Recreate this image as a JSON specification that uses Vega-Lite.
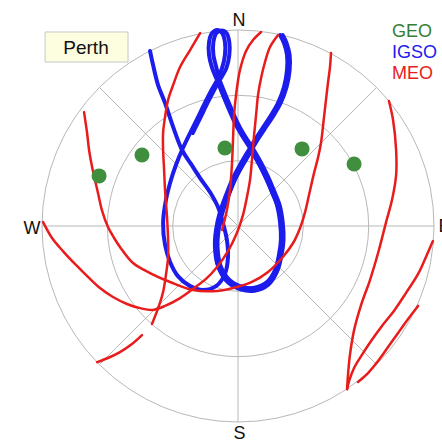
{
  "$schema": "https://vega.github.io/schema/vega-lite/v6.json",
  "width": 442,
  "height": 442,
  "padding": 0,
  "autosize": {"type": "none"},
  "background": "white",
  "config": {"view": {"stroke": null}, "text": {"font": "Liberation Sans"}},
  "datasets": {
    "rings": [{"x": 0, "y": 0, "r": 30}, {"x": 0, "y": 0, "r": 60}, {"x": 0, "y": 0, "r": 90}],
    "spokes": [
      {"x": 0, "y": 90, "x2": 0, "y2": -90},
      {"x": -90, "y": 0, "x2": 90, "y2": 0},
      {"x": -63.64, "y": 63.64, "x2": 63.64, "y2": -63.64},
      {"x": 63.64, "y": 63.64, "x2": -63.64, "y2": -63.64}
    ],
    "station": [{"x": -88.6, "y": 89.1, "x2": -50.5, "y2": 75.3, "label": "Perth", "lx": -69.8, "ly": 79.0}],
    "igso": [
      {"sat": "I1", "x": -40.4, "y": 80.4}, {"sat": "I1", "x": -39.0, "y": 73.9}, {"sat": "I1", "x": -36.7, "y": 64.7},
      {"sat": "I1", "x": -33.5, "y": 56.5}, {"sat": "I1", "x": -29.8, "y": 45.5}, {"sat": "I1", "x": -25.7, "y": 34.9},
      {"sat": "I1", "x": -21.6, "y": 28.5}, {"sat": "I1", "x": -17.4, "y": 22.0}, {"sat": "I1", "x": -12.9, "y": 15.6},
      {"sat": "I1", "x": -9.2, "y": 8.7}, {"sat": "I1", "x": -6.9, "y": 1.4}, {"sat": "I1", "x": -5.1, "y": -6.4},
      {"sat": "I1", "x": -4.6, "y": -14.2}, {"sat": "I1", "x": -6.0, "y": -22.0}, {"sat": "I1", "x": -10.1, "y": -27.6},
      {"sat": "I1", "x": -16.1, "y": -29.4}, {"sat": "I1", "x": -22.0, "y": -27.6}, {"sat": "I1", "x": -27.6, "y": -23.0},
      {"sat": "I1", "x": -31.2, "y": -16.5}, {"sat": "I1", "x": -33.5, "y": -8.7}, {"sat": "I1", "x": -34.4, "y": 1.4},
      {"sat": "I1", "x": -33.1, "y": 11.9}, {"sat": "I1", "x": -30.8, "y": 21.1}, {"sat": "I1", "x": -28.5, "y": 28.0},
      {"sat": "I1", "x": -25.7, "y": 34.9}, {"sat": "I1", "x": -22.0, "y": 42.7}, {"sat": "I1", "x": -18.8, "y": 49.1},
      {"sat": "I1", "x": -15.2, "y": 56.5}, {"sat": "I1", "x": -11.9, "y": 62.9}, {"sat": "I1", "x": -9.6, "y": 67.0},
      {"sat": "I1", "x": -7.3, "y": 72.6}, {"sat": "I1", "x": -6.0, "y": 78.5}, {"sat": "I1", "x": -6.0, "y": 84.5},
      {"sat": "I1", "x": -7.3, "y": 88.6}, {"sat": "I1", "x": -9.6, "y": 90.0}, {"sat": "I1", "x": -11.9, "y": 88.6},
      {"sat": "I1", "x": -13.3, "y": 84.5}, {"sat": "I1", "x": -13.3, "y": 78.5}, {"sat": "I1", "x": -11.9, "y": 72.6},
      {"sat": "I1", "x": -9.6, "y": 67.0}, {"sat": "I1", "x": -7.3, "y": 61.1}, {"sat": "I1", "x": -4.6, "y": 54.6},
      {"sat": "I1", "x": -1.8, "y": 48.2}, {"sat": "I1", "x": 1.4, "y": 42.2}, {"sat": "I1", "x": 5.5, "y": 35.8},
      {"sat": "I1", "x": 9.2, "y": 29.4}, {"sat": "I1", "x": 12.4, "y": 23.0}, {"sat": "I1", "x": 15.2, "y": 16.5},
      {"sat": "I1", "x": 17.9, "y": 9.6}, {"sat": "I1", "x": 19.3, "y": 1.8}, {"sat": "I1", "x": 19.7, "y": -6.4},
      {"sat": "I1", "x": 18.8, "y": -13.3}, {"sat": "I1", "x": 17.0, "y": -20.2}, {"sat": "I1", "x": 13.3, "y": -25.7},
      {"sat": "I1", "x": 6.9, "y": -28.5}, {"sat": "I1", "x": 0.9, "y": -28.0}, {"sat": "I1", "x": -5.1, "y": -24.8},
      {"sat": "I1", "x": -9.2, "y": -18.4}, {"sat": "I1", "x": -10.6, "y": -9.6}, {"sat": "I1", "x": -10.1, "y": -1.8},
      {"sat": "I1", "x": -8.3, "y": 6.4}, {"sat": "I1", "x": -5.5, "y": 14.2}, {"sat": "I1", "x": -2.3, "y": 22.0},
      {"sat": "I1", "x": 1.4, "y": 28.9}, {"sat": "I1", "x": 5.5, "y": 35.8}, {"sat": "I1", "x": 8.3, "y": 40.4},
      {"sat": "I1", "x": 11.0, "y": 44.5}, {"sat": "I1", "x": 14.7, "y": 50.1}, {"sat": "I1", "x": 18.4, "y": 56.5},
      {"sat": "I1", "x": 21.1, "y": 63.8}, {"sat": "I1", "x": 22.5, "y": 71.6}, {"sat": "I1", "x": 22.5, "y": 78.5},
      {"sat": "I1", "x": 21.1, "y": 84.0}, {"sat": "I1", "x": 19.3, "y": 87.7},

      {"sat": "I2", "x": -20.8, "y": 42.7}, {"sat": "I2", "x": -17.6, "y": 49.1}, {"sat": "I2", "x": -14.0, "y": 56.5},
      {"sat": "I2", "x": -10.7, "y": 62.9}, {"sat": "I2", "x": -8.4, "y": 67.0}, {"sat": "I2", "x": -5.3, "y": 72.6},
      {"sat": "I2", "x": -4.0, "y": 78.5}, {"sat": "I2", "x": -4.0, "y": 84.5}, {"sat": "I2", "x": -5.3, "y": 88.6},
      {"sat": "I2", "x": -7.6, "y": 89.8}, {"sat": "I2", "x": -9.9, "y": 88.6}, {"sat": "I2", "x": -11.3, "y": 84.5},
      {"sat": "I2", "x": -11.3, "y": 78.5}, {"sat": "I2", "x": -9.9, "y": 72.6}, {"sat": "I2", "x": -8.4, "y": 67.0},
      {"sat": "I2", "x": -6.1, "y": 61.1}, {"sat": "I2", "x": -3.4, "y": 54.6}, {"sat": "I2", "x": -0.6, "y": 48.2},
      {"sat": "I2", "x": 2.6, "y": 42.2}, {"sat": "I2", "x": 6.7, "y": 35.8}, {"sat": "I2", "x": 10.4, "y": 29.4},
      {"sat": "I2", "x": 13.6, "y": 23.0}, {"sat": "I2", "x": 16.4, "y": 16.5}, {"sat": "I2", "x": 19.1, "y": 9.6},
      {"sat": "I2", "x": 20.5, "y": 1.8}, {"sat": "I2", "x": 20.9, "y": -6.4}, {"sat": "I2", "x": 20.0, "y": -13.3},
      {"sat": "I2", "x": 18.2, "y": -20.2}, {"sat": "I2", "x": 14.5, "y": -25.7}, {"sat": "I2", "x": 8.1, "y": -28.5},
      {"sat": "I2", "x": 2.1, "y": -28.0}, {"sat": "I2", "x": -3.9, "y": -24.8}, {"sat": "I2", "x": -8.0, "y": -18.4},
      {"sat": "I2", "x": -9.4, "y": -9.6}, {"sat": "I2", "x": -8.9, "y": -1.8}, {"sat": "I2", "x": -7.1, "y": 6.4},
      {"sat": "I2", "x": -4.3, "y": 14.2}, {"sat": "I2", "x": -1.1, "y": 22.0}, {"sat": "I2", "x": 2.6, "y": 28.9},
      {"sat": "I2", "x": 6.7, "y": 35.8}, {"sat": "I2", "x": 9.5, "y": 40.4}, {"sat": "I2", "x": 12.2, "y": 44.5},
      {"sat": "I2", "x": 15.9, "y": 50.1}, {"sat": "I2", "x": 19.6, "y": 56.5}, {"sat": "I2", "x": 22.3, "y": 63.8},
      {"sat": "I2", "x": 23.7, "y": 71.6}, {"sat": "I2", "x": 23.7, "y": 78.5}, {"sat": "I2", "x": 22.3, "y": 84.0},
      {"sat": "I2", "x": 20.5, "y": 87.7},

      {"sat": "I3", "x": 6.1, "y": 34.6}, {"sat": "I3", "x": 9.8, "y": 28.2}, {"sat": "I3", "x": 13.0, "y": 21.8},
      {"sat": "I3", "x": 15.8, "y": 15.3}, {"sat": "I3", "x": 18.5, "y": 8.4}, {"sat": "I3", "x": 19.9, "y": 0.6},
      {"sat": "I3", "x": 20.3, "y": -7.6}, {"sat": "I3", "x": 19.4, "y": -14.5}, {"sat": "I3", "x": 17.6, "y": -21.4},
      {"sat": "I3", "x": 13.9, "y": -26.9}, {"sat": "I3", "x": 7.5, "y": -29.7}, {"sat": "I3", "x": 1.5, "y": -29.2},
      {"sat": "I3", "x": -4.5, "y": -26.0}, {"sat": "I3", "x": -8.6, "y": -19.6}, {"sat": "I3", "x": -10.0, "y": -10.8},
      {"sat": "I3", "x": -9.5, "y": -3.0}, {"sat": "I3", "x": -7.7, "y": 5.2}, {"sat": "I3", "x": -4.9, "y": 13.0},
      {"sat": "I3", "x": -1.7, "y": 20.8}, {"sat": "I3", "x": 2.0, "y": 27.7}, {"sat": "I3", "x": 6.1, "y": 34.6}
    ],
    "meo": [
      {"sat": "M1", "x": -17.4, "y": 88.6}, {"sat": "M1", "x": -22.0, "y": 80.8}, {"sat": "M1", "x": -26.6, "y": 73.0},
      {"sat": "M1", "x": -29.8, "y": 64.7}, {"sat": "M1", "x": -32.1, "y": 57.9}, {"sat": "M1", "x": -33.5, "y": 50.1},
      {"sat": "M1", "x": -34.4, "y": 42.7}, {"sat": "M1", "x": -34.4, "y": 34.9}, {"sat": "M1", "x": -34.0, "y": 27.1},
      {"sat": "M1", "x": -33.5, "y": 16.5}, {"sat": "M1", "x": -32.6, "y": 4.1}, {"sat": "M1", "x": -32.1, "y": -6.4},
      {"sat": "M1", "x": -32.1, "y": -14.2}, {"sat": "M1", "x": -33.1, "y": -22.5}, {"sat": "M1", "x": -34.4, "y": -30.3},
      {"sat": "M1", "x": -36.3, "y": -36.7}, {"sat": "M1", "x": -39.5, "y": -45.0},

      {"sat": "M2", "x": -64.7, "y": -62.5}, {"sat": "M2", "x": -59.7, "y": -60.6}, {"sat": "M2", "x": -54.2, "y": -57.9},
      {"sat": "M2", "x": -48.7, "y": -54.2}, {"sat": "M2", "x": -44.1, "y": -50.1},

      {"sat": "M3", "x": -70.7, "y": 52.3}, {"sat": "M3", "x": -69.3, "y": 42.7}, {"sat": "M3", "x": -68.4, "y": 34.9},
      {"sat": "M3", "x": -67.0, "y": 27.1}, {"sat": "M3", "x": -64.3, "y": 15.2}, {"sat": "M3", "x": -62.5, "y": 7.3},
      {"sat": "M3", "x": -59.7, "y": -0.5}, {"sat": "M3", "x": -56.9, "y": -5.5}, {"sat": "M3", "x": -54.2, "y": -9.6},
      {"sat": "M3", "x": -48.2, "y": -17.0}, {"sat": "M3", "x": -40.4, "y": -21.6}, {"sat": "M3", "x": -31.2, "y": -25.7},
      {"sat": "M3", "x": -20.7, "y": -29.4}, {"sat": "M3", "x": -9.6, "y": -29.8}, {"sat": "M3", "x": -0.5, "y": -28.0},
      {"sat": "M3", "x": 6.4, "y": -25.7}, {"sat": "M3", "x": 13.8, "y": -21.1}, {"sat": "M3", "x": 20.2, "y": -14.7},
      {"sat": "M3", "x": 25.3, "y": -7.8}, {"sat": "M3", "x": 28.5, "y": -0.9}, {"sat": "M3", "x": 30.8, "y": 6.4},
      {"sat": "M3", "x": 32.6, "y": 14.2}, {"sat": "M3", "x": 34.9, "y": 24.3}, {"sat": "M3", "x": 36.7, "y": 31.2},
      {"sat": "M3", "x": 38.1, "y": 38.1}, {"sat": "M3", "x": 39.5, "y": 50.1}, {"sat": "M3", "x": 40.4, "y": 57.9},
      {"sat": "M3", "x": 41.3, "y": 65.7}, {"sat": "M3", "x": 42.2, "y": 72.6}, {"sat": "M3", "x": 42.7, "y": 79.4},

      {"sat": "M4", "x": -89.5, "y": 1.8}, {"sat": "M4", "x": -85.4, "y": -5.5}, {"sat": "M4", "x": -80.4, "y": -11.5},
      {"sat": "M4", "x": -74.4, "y": -17.9}, {"sat": "M4", "x": -68.9, "y": -23.4}, {"sat": "M4", "x": -63.4, "y": -28.5},
      {"sat": "M4", "x": -57.4, "y": -32.6}, {"sat": "M4", "x": -51.0, "y": -35.8}, {"sat": "M4", "x": -45.0, "y": -37.7},
      {"sat": "M4", "x": -39.5, "y": -38.6}, {"sat": "M4", "x": -33.5, "y": -36.7}, {"sat": "M4", "x": -26.6, "y": -33.1},
      {"sat": "M4", "x": -20.7, "y": -28.9}, {"sat": "M4", "x": -14.7, "y": -24.3}, {"sat": "M4", "x": -9.6, "y": -18.8},
      {"sat": "M4", "x": -4.6, "y": -11.5}, {"sat": "M4", "x": -0.5, "y": -3.2}, {"sat": "M4", "x": 2.3, "y": 5.1},
      {"sat": "M4", "x": 4.1, "y": 13.3}, {"sat": "M4", "x": 5.5, "y": 21.1}, {"sat": "M4", "x": 6.4, "y": 30.3},
      {"sat": "M4", "x": 7.3, "y": 40.9}, {"sat": "M4", "x": 8.3, "y": 51.0}, {"sat": "M4", "x": 9.2, "y": 60.2},
      {"sat": "M4", "x": 10.6, "y": 68.0}, {"sat": "M4", "x": 12.4, "y": 75.3}, {"sat": "M4", "x": 14.7, "y": 82.2},
      {"sat": "M4", "x": 18.4, "y": 87.7},

      {"sat": "M5", "x": 10.6, "y": 89.1}, {"sat": "M5", "x": 6.9, "y": 85.4}, {"sat": "M5", "x": 3.7, "y": 80.4},
      {"sat": "M5", "x": 0.9, "y": 71.6}, {"sat": "M5", "x": -0.9, "y": 60.2}, {"sat": "M5", "x": -1.8, "y": 51.0},
      {"sat": "M5", "x": -2.3, "y": 39.5}, {"sat": "M5", "x": -2.8, "y": 28.0}, {"sat": "M5", "x": -3.7, "y": 16.5},
      {"sat": "M5", "x": -5.1, "y": 7.3}, {"sat": "M5", "x": -7.3, "y": -1.8},

      {"sat": "M6", "x": 69.3, "y": 57.4}, {"sat": "M6", "x": 71.2, "y": 48.7}, {"sat": "M6", "x": 72.6, "y": 34.9},
      {"sat": "M6", "x": 72.6, "y": 23.4}, {"sat": "M6", "x": 70.7, "y": 11.9}, {"sat": "M6", "x": 68.0, "y": 1.8},
      {"sat": "M6", "x": 64.7, "y": -11.0}, {"sat": "M6", "x": 60.6, "y": -24.8}, {"sat": "M6", "x": 56.5, "y": -36.3},
      {"sat": "M6", "x": 53.3, "y": -47.8}, {"sat": "M6", "x": 51.4, "y": -59.2}, {"sat": "M6", "x": 50.5, "y": -68.4},
      {"sat": "M6", "x": 50.1, "y": -74.9},

      {"sat": "M7", "x": 89.5, "y": -6.9}, {"sat": "M7", "x": 86.3, "y": -14.2}, {"sat": "M7", "x": 82.7, "y": -22.0},
      {"sat": "M7", "x": 77.1, "y": -30.8}, {"sat": "M7", "x": 71.6, "y": -39.0}, {"sat": "M7", "x": 66.1, "y": -45.9},
      {"sat": "M7", "x": 61.1, "y": -52.8}, {"sat": "M7", "x": 56.9, "y": -59.2}, {"sat": "M7", "x": 53.3, "y": -65.2},
      {"sat": "M7", "x": 51.0, "y": -71.2}, {"sat": "M7", "x": 50.1, "y": -74.9},

      {"sat": "M8", "x": 82.7, "y": -36.7}, {"sat": "M8", "x": 78.1, "y": -42.7}, {"sat": "M8", "x": 73.5, "y": -49.1},
      {"sat": "M8", "x": 68.9, "y": -55.6}, {"sat": "M8", "x": 64.3, "y": -62.0}, {"sat": "M8", "x": 59.7, "y": -67.5},
      {"sat": "M8", "x": 55.1, "y": -71.6}
    ],
    "geo": [
      {"x": -63.8, "y": 23.0}, {"x": -44.1, "y": 32.6}, {"x": -6.0, "y": 35.8},
      {"x": 29.4, "y": 35.4}, {"x": 53.3, "y": 28.5}
    ],
    "compass": [
      {"label": "N", "x": 0.5, "y": 91.8},
      {"label": "S", "x": 0.7, "y": -97.6},
      {"label": "W", "x": -94.6, "y": -3.7}
    ],
    "east": [{"label": "E", "x": 92.1, "y": -2.8}],
    "legend": [
      {"label": "GEO", "x": 70.7, "y": 87.0},
      {"label": "IGSO", "x": 70.7, "y": 77.1},
      {"label": "MEO", "x": 70.7, "y": 67.3}
    ]
  },
  "encoding": {
    "x": {"field": "x", "type": "quantitative", "scale": {"domain": [-109.29, 93.67], "nice": false, "zero": false}, "axis": null},
    "y": {"field": "y", "type": "quantitative", "scale": {"domain": [-99.18, 103.78], "nice": false, "zero": false}, "axis": null}
  },
  "layer": [
    {
      "data": {"name": "rings"},
      "mark": {"type": "point", "shape": "circle", "filled": false, "stroke": "#b8b8b8", "strokeWidth": 1, "opacity": 1},
      "encoding": {
        "size": {"field": "r", "type": "quantitative", "scale": {"type": "pow", "exponent": 2, "domain": [0, 90], "range": [0, 153664]}, "legend": null}
      }
    },
    {
      "data": {"name": "spokes"},
      "mark": {"type": "rule", "stroke": "#b8b8b8", "strokeWidth": 1},
      "encoding": {"x2": {"field": "x2"}, "y2": {"field": "y2"}}
    },
    {
      "data": {"name": "station"},
      "mark": {"type": "rect", "fill": "#fdfde0", "stroke": "#c8c8c8", "strokeWidth": 1},
      "encoding": {"x2": {"field": "x2"}, "y2": {"field": "y2"}}
    },
    {
      "data": {"name": "station"},
      "mark": {"type": "text", "fontSize": 19, "align": "center", "baseline": "alphabetic", "color": "#111111"},
      "encoding": {"x": {"field": "lx", "type": "quantitative"}, "y": {"field": "ly", "type": "quantitative"}, "text": {"field": "label"}}
    },
    {
      "data": {"name": "igso"},
      "mark": {"type": "line", "color": "#1c1cec", "strokeWidth": 4, "strokeCap": "round", "strokeJoin": "round", "interpolate": "catmull-rom"},
      "encoding": {"detail": {"field": "sat"}, "order": {"value": null}}
    },
    {
      "data": {"name": "meo"},
      "mark": {"type": "line", "color": "#e81c1c", "strokeWidth": 2.5, "strokeCap": "round", "strokeJoin": "round", "interpolate": "catmull-rom"},
      "encoding": {"detail": {"field": "sat"}, "order": {"value": null}}
    },
    {
      "data": {"name": "geo"},
      "mark": {"type": "point", "shape": "circle", "filled": true, "size": 225, "color": "#3f8f3f", "opacity": 1}
    },
    {
      "data": {"name": "compass"},
      "mark": {"type": "text", "fontSize": 18, "align": "center", "baseline": "alphabetic", "color": "#111111"},
      "encoding": {"text": {"field": "label"}}
    },
    {
      "data": {"name": "east"},
      "mark": {"type": "text", "fontSize": 18, "align": "left", "baseline": "alphabetic", "color": "#111111"},
      "encoding": {"text": {"field": "label"}}
    },
    {
      "data": {"name": "legend"},
      "mark": {"type": "text", "fontSize": 18, "align": "left", "baseline": "alphabetic"},
      "encoding": {
        "text": {"field": "label"},
        "color": {"field": "label", "type": "nominal", "scale": {"domain": ["GEO", "IGSO", "MEO"], "range": ["#357f35", "#1c1cec", "#e81c1c"]}, "legend": null}
      }
    }
  ]
}
